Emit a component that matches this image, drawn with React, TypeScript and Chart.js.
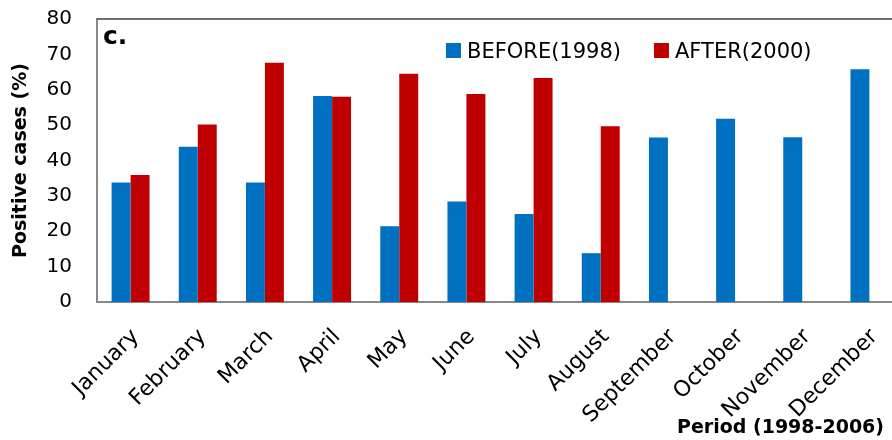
import React, { useEffect, useRef } from "react";
import { Chart, registerables } from "chart.js";

Chart.register(...registerables);

const categories = [
  "January", "February", "March", "April", "May", "June",
  "July", "August", "September", "October", "November", "December",
];
const beforeValues = [33.8, 43.9, 33.8, 58.2, 21.4, 28.4, 24.9, 13.8, 46.5, 51.8, 46.6, 65.8];
const afterValues: (number | null)[] = [35.9, 50.2, 67.6, 58, 64.5, 58.8, 63.3, 49.7, null, null, null, null];
const seriesNames = ["BEFORE(1998)", "AFTER(2000)"];
const seriesColors = ["#0070C0", "#C00000"];
const yTicks = { min: 0, max: 80, step: 10 };
const yTitle = "Positive cases (%)";
const xTitle = "Period (1998-2006)";
const panelLabel = "c.";

const FONT = "'DejaVu Sans', sans-serif";

const overlayPlugin = {
  id: "overlay",
  afterDraw(chart: any) {
    const { ctx, chartArea } = chart;
    ctx.save();
    // top frame line
    ctx.strokeStyle = "#404040";
    ctx.lineWidth = 1.5;
    ctx.beginPath();
    ctx.moveTo(chartArea.left, chartArea.top);
    ctx.lineTo(chartArea.right, chartArea.top);
    ctx.stroke();

    // panel label
    ctx.fillStyle = "#000";
    ctx.font = `bold 25px ${FONT}`;
    ctx.textAlign = "left";
    ctx.textBaseline = "alphabetic";
    ctx.fillText(panelLabel, chartArea.left + 6, chartArea.top + 25);

    // legend
    ctx.font = `21px ${FONT}`;
    let x = chartArea.left + 349;
    const baseY = chartArea.top + 39;
    chart.data.datasets.forEach((ds: any) => {
      ctx.fillStyle = ds.backgroundColor;
      ctx.fillRect(x, baseY - 15, 15, 15);
      ctx.fillStyle = "#000";
      ctx.fillText(ds.label, x + 21, baseY);
      x += 21 + ctx.measureText(ds.label).width + 33;
    });

    // x title
    ctx.font = `bold 19px ${FONT}`;
    ctx.textAlign = "right";
    ctx.fillText(xTitle, chartArea.right - 19, chartArea.bottom + 131);
    ctx.restore();
  },
};

export default function App() {
  const ref = useRef<HTMLCanvasElement | null>(null);
  useEffect(() => {
    if (!ref.current) return;
    const chart = new Chart(ref.current, {
      type: "bar",
      data: {
        labels: categories,
        datasets: [
          {
            label: seriesNames[0],
            data: beforeValues,
            backgroundColor: seriesColors[0],
            categoryPercentage: 0.565,
            barPercentage: 1.0,
          },
          {
            label: seriesNames[1],
            data: afterValues,
            backgroundColor: seriesColors[1],
            categoryPercentage: 0.565,
            barPercentage: 1.0,
          },
        ],
      },
      options: {
        responsive: false,
        animation: false,
        layout: { padding: { left: 0, right: 7, top: 19, bottom: 0 } },
        plugins: {
          legend: { display: false },
          tooltip: { enabled: false },
        },
        scales: {
          x: {
            grid: { display: false, drawTicks: false },
            border: { display: true, color: "#888888", width: 2 },
            ticks: {
              autoSkip: false,
              maxRotation: 45,
              minRotation: 45,
              padding: 22,
              labelOffset: 5,
              color: "#000",
              font: { family: FONT, size: 22 },
            },
            afterFit(scale: any) {
              scale.height = 138;
              scale.paddingLeft = 0;
              scale.paddingRight = 0;
            },
          },
          y: {
            min: yTicks.min,
            max: yTicks.max,
            grid: { display: false, drawTicks: false },
            border: { display: true, color: "#888888", width: 2 },
            ticks: {
              stepSize: yTicks.step,
              padding: 25,
              color: "#000",
              font: { family: FONT, size: 20 },
            },
            title: {
              display: true,
              text: yTitle,
              color: "#000",
              font: { family: FONT, size: 19, weight: "bold" },
              padding: { top: 10, bottom: 0 },
            },
            afterFit(scale: any) {
              scale.width = 97;
              scale.paddingTop = 0;
              scale.paddingBottom = 0;
            },
          },
        },
      },
      plugins: [overlayPlugin],
    });
    return () => chart.destroy();
  }, []);
  return (
    <div style={{ position: "absolute", left: 0, top: 0, width: 892, height: 440, overflow: "hidden", background: "#fff" }}>
      <canvas ref={ref} width={910} height={440} style={{ width: 910, height: 440, display: "block" }} />
    </div>
  );
}
